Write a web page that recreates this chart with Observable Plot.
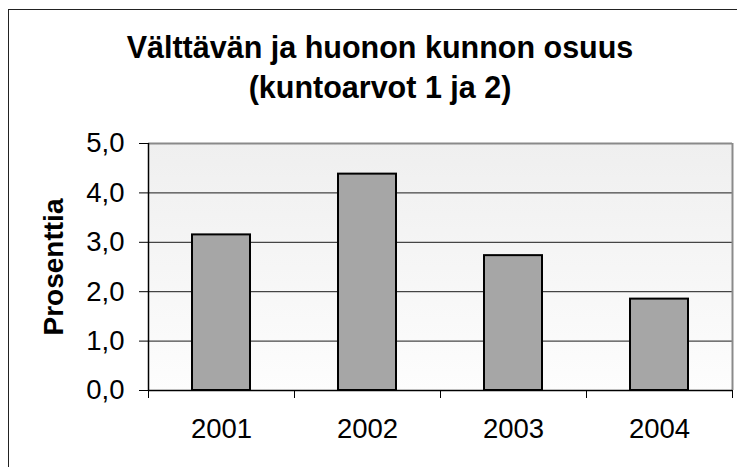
<!DOCTYPE html>
<html>
<head>
<meta charset="utf-8">
<script src="https://cdn.jsdelivr.net/npm/d3@7"></script>
<script src="https://cdn.jsdelivr.net/npm/@observablehq/plot@0.6"></script>
<style>
  html, body { margin: 0; padding: 0; background: #fff; overflow: hidden; }
  #wrap { position: relative; width: 737px; height: 467px; overflow: hidden; }
  #border { position: absolute; left: 8px; top: 9px; width: 900px; height: 700px;
            border-top: 1.5px solid #222; border-left: 1.5px solid #222; pointer-events: none; }
  svg { display: block; }
</style>
</head>
<body>
<div id="wrap"><div id="border"></div></div>
<script>
const years = ["2001", "2002", "2003", "2004"];
const values = [3.15, 4.38, 2.73, 1.85];
const yTicks = [0, 1, 2, 3, 4, 5];
const gridTicks = [1, 2, 3, 4];
const boundaryTicks = [0, 1, 2, 3, 4];
const titleText = "Välttävän ja huonon kunnon osuus\n(kuntoarvot 1 ja 2)";
const yLabel = "Prosenttia";

const data = years.map((year, i) => ({year, i, value: values[i]}));

const chart = Plot.plot({
  width: 737,
  height: 467,
  marginLeft: 148,
  marginRight: 5,
  marginTop: 143,
  marginBottom: 77,
  style: {fontFamily: "'Liberation Sans', Arial, sans-serif", background: "transparent", color: "#000", fontSize: "27px"},
  x: {domain: [0, 4], axis: null},
  y: {domain: [0, 5], axis: null},
  marks: [
    Plot.frame({fill: "url(#bg)", stroke: "none"}),
    Plot.ruleY(gridTicks, {stroke: "#1a1a1a", strokeWidth: 1}),
    Plot.ruleY([5], {stroke: "#8a8a8a", strokeWidth: 2}),
    Plot.ruleX([4], {stroke: "#8a8a8a", strokeWidth: 2}),
    Plot.rectY(data, {x1: "i", x2: d => d.i + 1, y: "value", insetLeft: 44, insetRight: 44,
      fill: "#a6a6a6", stroke: "#000", strokeWidth: 2}),
    Plot.axisY({ticks: yTicks, tickSize: 9, tickPadding: 15, fontSize: 27.5, label: null,
      tickFormat: d => d.toFixed(1).replace(".", ",")}),
    Plot.axisX({ticks: boundaryTicks, tickSize: 8, tickFormat: () => "", label: null}),
    Plot.ruleX([0], {stroke: "#000", strokeWidth: 1.5}),
    Plot.ruleY([0], {stroke: "#000", strokeWidth: 1.5}),
    Plot.text(data, {x: d => d.i + 0.5, y: 0, text: "year", dy: 39, fontSize: 27.5, fill: "#000"}),
    Plot.text([titleText], {text: d => d, frameAnchor: "top", dx: -60.5, dy: -46, lineAnchor: "bottom",
      lineHeight: 1.3, fontSize: 30.5, fontWeight: "bold", fill: "#000"}),
    Plot.text([yLabel], {text: d => d, frameAnchor: "left", textAnchor: "middle", rotate: -90, dx: -94,
      fontSize: 28, fontWeight: "bold", fill: "#000"})
  ]
});

const svg = d3.select(chart);
const defs = svg.insert("defs", ":first-child");
const grad = defs.append("linearGradient").attr("id", "bg")
  .attr("x1", 0).attr("y1", 0).attr("x2", 0).attr("y2", 1);
grad.append("stop").attr("offset", "0%").attr("stop-color", "#efefef");
grad.append("stop").attr("offset", "100%").attr("stop-color", "#fdfdfd");

document.getElementById("wrap").insertBefore(chart, document.getElementById("border"));
</script>
</body>
</html>
